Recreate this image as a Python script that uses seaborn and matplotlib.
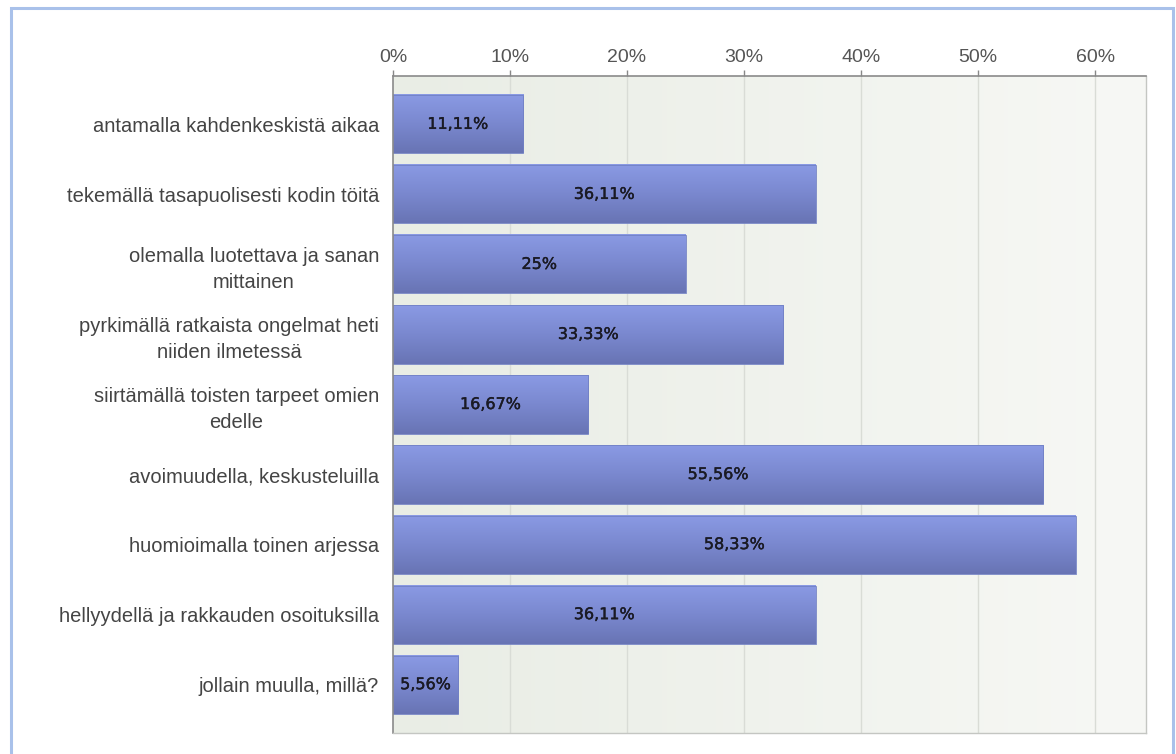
import numpy as np
import pandas as pd
import matplotlib
matplotlib.use("Agg")
import matplotlib.pyplot as plt
import matplotlib.patheffects as pe
import seaborn as sns
from matplotlib.patches import Rectangle
from matplotlib.colors import LinearSegmentedColormap

# Survey answers and share of respondents (%)
categories = [
    "antamalla kahdenkeskistä aikaa",
    "tekemällä tasapuolisesti kodin töitä",
    "olemalla luotettava ja sanan\nmittainen",
    "pyrkimällä ratkaista ongelmat heti\nniiden ilmetessä",
    "siirtämällä toisten tarpeet omien\nedelle",
    "avoimuudella, keskusteluilla",
    "huomioimalla toinen arjessa",
    "hellyydellä ja rakkauden osoituksilla",
    "jollain muulla, millä?",
]
values = [11.11, 36.11, 25, 33.33, 16.67, 55.56, 58.33, 36.11, 5.56]
value_labels = ["11,11%", "36,11%", "25%", "33,33%", "16,67%",
                "55,56%", "58,33%", "36,11%", "5,56%"]
tick_values = [0, 10, 20, 30, 40, 50, 60]
tick_labels = ["0%", "10%", "20%", "30%", "40%", "50%", "60%"]

df = pd.DataFrame({"answer": categories, "share": values})

sns.set_theme(style="white")
plt.rcParams["font.family"] = ["Liberation Sans", "DejaVu Sans"]

fig = plt.figure(figsize=(11.76, 7.54), dpi=100)
fig.patch.set_facecolor("white")

# light blue frame around the whole chart
fig.patches.append(Rectangle((11 / 1176, -0.02), (1173 - 11) / 1176, 1 - 8 / 754 + 0.02,
                             transform=fig.transFigure, fill=False,
                             edgecolor="#a9c1ea", linewidth=2.2))

ax = fig.add_axes([393 / 1176, 1 - 733 / 754, (1146 - 393) / 1176, (733 - 76) / 754])

sns.barplot(data=df, x="share", y="answer", orient="h", ax=ax,
            color="#7d8bd6", width=0.83, saturation=1)

XMAX = 64.35
ax.set_xlim(0, XMAX)
ax.set_ylim(8.69, -0.69)

# background: soft green-grey gradient left to right
bg = LinearSegmentedColormap.from_list("bg", ["#e9ede5", "#f7f8f5"])
ax.imshow(np.linspace(0, 1, 256)[None, :], cmap=bg, aspect="auto",
          extent=(0, XMAX, 8.69, -0.69), zorder=0, interpolation="bicubic")

# vertical grid
for t in tick_values[1:]:
    ax.axvline(t, color="#d9dcd6", linewidth=1, zorder=0.5)

# bars with vertical gradient fill
barcm = LinearSegmentedColormap.from_list("bar", ["#8a9ae4", "#7a88cf", "#6874b4"])
for patch in ax.patches:
    x0, y0 = patch.get_x(), patch.get_y()
    w, h = patch.get_width(), patch.get_height()
    patch.set_facecolor("none")
    patch.set_edgecolor("none")
    ax.imshow(np.linspace(0, 1, 128)[:, None], cmap=barcm, aspect="auto",
              extent=(x0, x0 + w, y0 + h, y0), zorder=2, interpolation="bicubic")
    ax.add_patch(Rectangle((x0, y0), w, h, fill=False, edgecolor="#7180c4",
                           linewidth=0.6, zorder=2.5))

for i, (v, lab) in enumerate(zip(values, value_labels)):
    ax.text(v / 2, i, lab, ha="center", va="center", fontsize=11.5,
            color="#1a1a24", family="DejaVu Sans", zorder=3,
            path_effects=[pe.withStroke(linewidth=0.3, foreground="#1a1a24")])

ax.set_xlim(0, XMAX)
ax.set_ylim(8.69, -0.69)

ax.xaxis.tick_top()
ax.set_xticks(tick_values)
ax.set_xticklabels(tick_labels, fontsize=14, color="#555555")
ax.tick_params(axis="x", direction="out", length=4, width=1, color="#888888", pad=3)
ax.tick_params(axis="y", length=0, pad=10)
ax.set_yticks(range(len(categories)))
ax.set_yticklabels(categories, fontsize=14.5, color="#444444",
                   multialignment="center", linespacing=1.45)
ax.set_xlabel("")
ax.set_ylabel("")

for side in ["top", "left"]:
    ax.spines[side].set_color("#8a8a8a")
    ax.spines[side].set_linewidth(1.2)
for side in ["right", "bottom"]:
    ax.spines[side].set_color("#c4c6c2")
    ax.spines[side].set_linewidth(1)

fig.savefig("out.png", dpi=100, facecolor="white")
